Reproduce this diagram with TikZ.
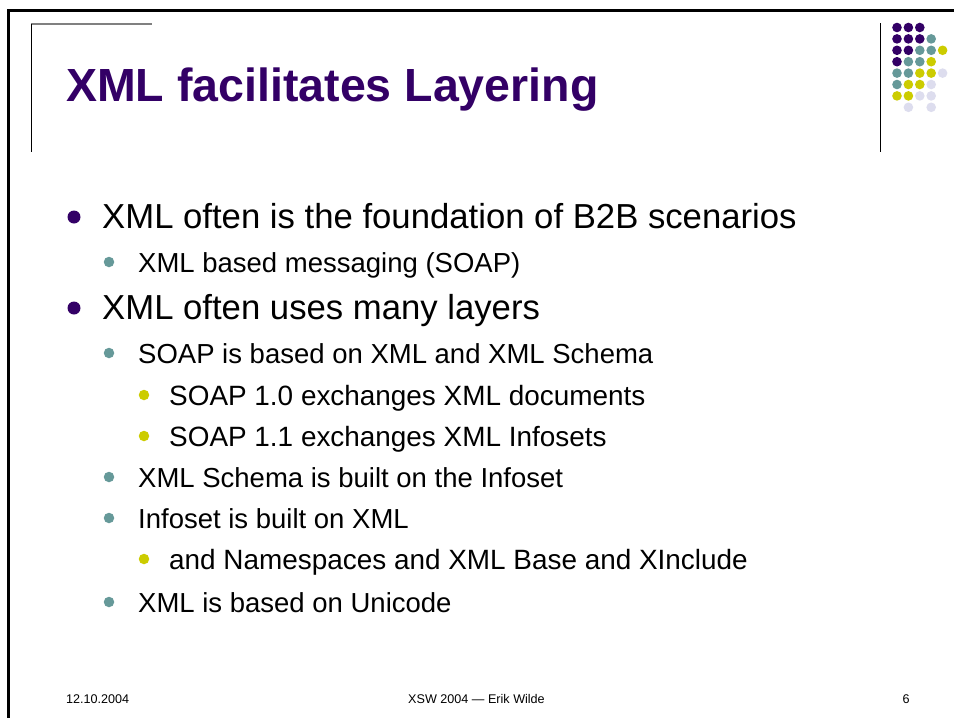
\documentclass[tikz,border=0pt]{standalone}
\usepackage{fontspec}
\setmainfont{Liberation Sans}
\definecolor{titlepurple}{RGB}{51,0,102}
\definecolor{dotteal}{RGB}{102,153,153}
\definecolor{dotyellow}{RGB}{204,204,0}
\definecolor{dotlilac}{RGB}{221,221,238}
\tikzset{
  px/.style={x=1pt,y=-1pt},
  frameline/.style={line width=3pt,black},
  thinline/.style={line width=1pt,black},
  greyline/.style={line width=1.5pt,gray},
  bulletone/.style={circle,fill=titlepurple,inner sep=0pt,minimum size=13pt},
  bullettwo/.style={circle,fill=dotteal,inner sep=0pt,minimum size=10.5pt},
  bulletthree/.style={circle,fill=dotyellow,inner sep=0pt,minimum size=10.5pt},
  levelone/.style={anchor=base west,inner sep=0pt,font=\fontsize{34.7}{40}\selectfont},
  leveltwo/.style={anchor=base west,inner sep=0pt,font=\fontsize{27.5}{32}\selectfont},
  levelthree/.style={anchor=base west,inner sep=0pt,font=\fontsize{27.9}{32}\selectfont},
  footer/.style={anchor=base,inner sep=0pt,font=\fontsize{12.6}{15}\selectfont},
  logodot/.style={circle,inner sep=0pt,minimum size=9.6pt},
}
\begin{document}
\begin{tikzpicture}[px]
\useasboundingbox (0,0) rectangle (954,718);
\fill[white] (0,0) rectangle (954,718);

% slide frame
\coordinate (ftl) at (8,10);
\coordinate (ftr) at (954,10);
\coordinate (fbl) at (8,718);
\draw[frameline] (ftr) -- (ftl) -- (fbl);

% title corner rule
\coordinate (ctl) at (31,24);
\coordinate (ctr) at (152,24);
\coordinate (cbl) at (31,152);
\draw[greyline] (ctl) -- (ctr);
\draw[thinline] (ctl) -- (cbl);

% logo rule
\coordinate (lt) at (880,23);
\coordinate (lb) at (880,152);
\draw[thinline] (lt) -- (lb);

% logo dot grid: P purple, T teal, Y yellow, L lilac, - empty
\foreach \row/\pattern in {0/{P,P,P,-,-},1/{P,P,P,T,-},2/{P,P,T,T,Y},3/{P,T,T,Y,-},
                           4/{T,T,Y,Y,L},5/{T,Y,Y,L,-},6/{Y,Y,L,L,-},7/{-,L,-,L,-}}{
  \foreach \c [count=\col from 0] in \pattern {
    \if\c P\node[logodot,fill=titlepurple] (d\row\col) at (897+11.4*\col,27.5+11.4*\row) {};\fi
    \if\c T\node[logodot,fill=dotteal] (d\row\col) at (897+11.4*\col,27.5+11.4*\row) {};\fi
    \if\c Y\node[logodot,fill=dotyellow] (d\row\col) at (897+11.4*\col,27.5+11.4*\row) {};\fi
    \if\c L\node[logodot,fill=dotlilac] (d\row\col) at (897+11.4*\col,27.5+11.4*\row) {};\fi
  }
}

% title
\node[anchor=base west,inner sep=0pt,text=titlepurple,font=\fontsize{46.5}{54}\selectfont\bfseries]
  (title) at (66,101) {XML facilitates Layering};

% bullet list
\node[bulletone] (b1) at (74,217) {};
\node[levelone] (t1) at (102,228) {XML often is the foundation of B2B scenarios};
\node[bullettwo] (b2) at (109,262) {};
\node[leveltwo] (t2) at (138,272) {XML based messaging (SOAP)};
\node[bulletone] (b3) at (74,308) {};
\node[levelone] (t3) at (102,319) {XML often uses many layers};
\node[bullettwo] (b4) at (109,353) {};
\node[leveltwo] (t4) at (138,363) {SOAP is based on XML and XML Schema};
\node[bulletthree] (b5) at (144,395) {};
\node[levelthree] (t5) at (169,405) {SOAP 1.0 exchanges XML documents};
\node[bulletthree] (b6) at (144,436) {};
\node[levelthree] (t6) at (169,446) {SOAP 1.1 exchanges XML Infosets};
\node[bullettwo] (b7) at (109,477) {};
\node[leveltwo] (t7) at (138,487) {XML Schema is built on the Infoset};
\node[bullettwo] (b8) at (109,518) {};
\node[leveltwo] (t8) at (138,528) {Infoset is built on XML};
\node[bulletthree] (b9) at (144,559) {};
\node[levelthree] (t9) at (169,569) {and Namespaces and XML Base and XInclude};
\node[bullettwo] (b10) at (109,602) {};
\node[leveltwo] (t10) at (138,612) {XML is based on Unicode};

% footer
\node[footer,anchor=base west] (fdate) at (66,703) {12.10.2004};
\node[footer] (fmid) at (476.5,703) {XSW 2004 — Erik Wilde};
\node[footer] (fpage) at (906,703) {6};
\end{tikzpicture}
\end{document}
